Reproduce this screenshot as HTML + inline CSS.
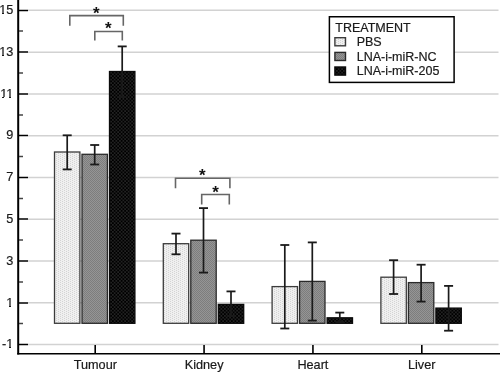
<!DOCTYPE html>
<html><head><meta charset="utf-8"><style>
html,body{margin:0;padding:0;background:#fff;width:500px;height:378px;overflow:hidden}
svg{display:block;will-change:transform}
.t{font-family:"Liberation Sans",sans-serif;font-size:12.7px;fill:#1a1a1a;stroke:#1a1a1a;stroke-width:0.2px}
.l{font-size:12.5px}
.s{font-family:"Liberation Sans",sans-serif;font-size:17px;font-weight:bold;fill:#111}
</style></head><body>
<svg width="500" height="378" viewBox="0 0 500 378">
<defs>
<pattern id="pPBS" width="4" height="2" patternUnits="userSpaceOnUse">
<rect width="4" height="2" fill="#f0f0f0"/><rect x="0" y="0" width="1" height="1" fill="#d4d4d4"/><rect x="2" y="1" width="1" height="1" fill="#d4d4d4"/></pattern>
<pattern id="pNC" width="2" height="2" patternUnits="userSpaceOnUse">
<rect width="2" height="2" fill="#959595"/><rect width="1" height="1" fill="#7d7d7d"/><rect x="1" y="1" width="1" height="1" fill="#7d7d7d"/></pattern>
<pattern id="p205" width="3.5" height="3.5" patternUnits="userSpaceOnUse">
<rect width="3.5" height="3.5" fill="#000"/><rect x="0" y="0" width="1.75" height="1.75" fill="#222"/><rect x="1.75" y="1.75" width="1.75" height="1.75" fill="#222"/></pattern>
</defs>
<rect width="500" height="378" fill="#fff"/>
<line x1="28" y1="344.59" x2="498.5" y2="344.59" stroke="#d2d2d2" stroke-width="1.5"/>
<line x1="28" y1="302.81" x2="498.5" y2="302.81" stroke="#d2d2d2" stroke-width="1.5"/>
<line x1="28" y1="261.03" x2="498.5" y2="261.03" stroke="#d2d2d2" stroke-width="1.5"/>
<line x1="28" y1="219.25" x2="498.5" y2="219.25" stroke="#d2d2d2" stroke-width="1.5"/>
<line x1="28" y1="177.47" x2="498.5" y2="177.47" stroke="#d2d2d2" stroke-width="1.5"/>
<line x1="28" y1="135.69" x2="498.5" y2="135.69" stroke="#d2d2d2" stroke-width="1.5"/>
<line x1="28" y1="93.91" x2="498.5" y2="93.91" stroke="#d2d2d2" stroke-width="1.5"/>
<line x1="28" y1="52.13" x2="498.5" y2="52.13" stroke="#d2d2d2" stroke-width="1.5"/>
<line x1="28" y1="10.35" x2="498.5" y2="10.35" stroke="#d2d2d2" stroke-width="1.5"/>
<rect x="54.50" y="152.00" width="25.40" height="171.30" fill="url(#pPBS)" stroke="#3c3c3c" stroke-width="1.3"/>
<rect x="82.00" y="154.30" width="25.40" height="169.00" fill="url(#pNC)" stroke="#2a2a2a" stroke-width="1.3"/>
<rect x="109.50" y="71.50" width="25.40" height="251.80" fill="url(#p205)" stroke="#0a0a0a" stroke-width="1.3"/>
<rect x="163.30" y="243.70" width="25.40" height="79.60" fill="url(#pPBS)" stroke="#3c3c3c" stroke-width="1.3"/>
<rect x="190.80" y="240.20" width="25.40" height="83.10" fill="url(#pNC)" stroke="#2a2a2a" stroke-width="1.3"/>
<rect x="218.30" y="304.40" width="25.40" height="18.90" fill="url(#p205)" stroke="#0a0a0a" stroke-width="1.3"/>
<rect x="272.10" y="286.60" width="25.40" height="36.70" fill="url(#pPBS)" stroke="#3c3c3c" stroke-width="1.3"/>
<rect x="299.60" y="281.40" width="25.40" height="41.90" fill="url(#pNC)" stroke="#2a2a2a" stroke-width="1.3"/>
<rect x="327.10" y="317.80" width="25.40" height="5.50" fill="url(#p205)" stroke="#0a0a0a" stroke-width="1.3"/>
<rect x="380.90" y="277.20" width="25.40" height="46.10" fill="url(#pPBS)" stroke="#3c3c3c" stroke-width="1.3"/>
<rect x="408.40" y="282.60" width="25.40" height="40.70" fill="url(#pNC)" stroke="#2a2a2a" stroke-width="1.3"/>
<rect x="435.90" y="308.10" width="25.40" height="15.20" fill="url(#p205)" stroke="#0a0a0a" stroke-width="1.3"/>
<line x1="67.20" y1="135.30" x2="67.20" y2="169.40" stroke="#1a1a1a" stroke-width="1.7"/>
<line x1="62.70" y1="135.30" x2="71.70" y2="135.30" stroke="#1a1a1a" stroke-width="1.8"/>
<line x1="62.70" y1="169.40" x2="71.70" y2="169.40" stroke="#1a1a1a" stroke-width="1.8"/>
<line x1="94.70" y1="145.00" x2="94.70" y2="164.50" stroke="#1a1a1a" stroke-width="1.7"/>
<line x1="90.20" y1="145.00" x2="99.20" y2="145.00" stroke="#1a1a1a" stroke-width="1.8"/>
<line x1="90.20" y1="164.50" x2="99.20" y2="164.50" stroke="#1a1a1a" stroke-width="1.8"/>
<line x1="122.20" y1="46.40" x2="122.20" y2="97.00" stroke="#1a1a1a" stroke-width="1.7"/>
<line x1="117.70" y1="46.40" x2="126.70" y2="46.40" stroke="#1a1a1a" stroke-width="1.8"/>
<line x1="117.70" y1="97.00" x2="126.70" y2="97.00" stroke="#1a1a1a" stroke-width="1.8"/>
<line x1="176.00" y1="233.60" x2="176.00" y2="254.30" stroke="#1a1a1a" stroke-width="1.7"/>
<line x1="171.50" y1="233.60" x2="180.50" y2="233.60" stroke="#1a1a1a" stroke-width="1.8"/>
<line x1="171.50" y1="254.30" x2="180.50" y2="254.30" stroke="#1a1a1a" stroke-width="1.8"/>
<line x1="203.50" y1="208.10" x2="203.50" y2="272.60" stroke="#1a1a1a" stroke-width="1.7"/>
<line x1="199.00" y1="208.10" x2="208.00" y2="208.10" stroke="#1a1a1a" stroke-width="1.8"/>
<line x1="199.00" y1="272.60" x2="208.00" y2="272.60" stroke="#1a1a1a" stroke-width="1.8"/>
<line x1="231.00" y1="291.40" x2="231.00" y2="316.00" stroke="#1a1a1a" stroke-width="1.7"/>
<line x1="226.50" y1="291.40" x2="235.50" y2="291.40" stroke="#1a1a1a" stroke-width="1.8"/>
<line x1="226.50" y1="316.00" x2="235.50" y2="316.00" stroke="#1a1a1a" stroke-width="1.8"/>
<line x1="284.80" y1="245.00" x2="284.80" y2="328.50" stroke="#1a1a1a" stroke-width="1.7"/>
<line x1="280.30" y1="245.00" x2="289.30" y2="245.00" stroke="#1a1a1a" stroke-width="1.8"/>
<line x1="280.30" y1="328.50" x2="289.30" y2="328.50" stroke="#1a1a1a" stroke-width="1.8"/>
<line x1="312.30" y1="242.40" x2="312.30" y2="320.60" stroke="#1a1a1a" stroke-width="1.7"/>
<line x1="307.80" y1="242.40" x2="316.80" y2="242.40" stroke="#1a1a1a" stroke-width="1.8"/>
<line x1="307.80" y1="320.60" x2="316.80" y2="320.60" stroke="#1a1a1a" stroke-width="1.8"/>
<line x1="339.80" y1="312.60" x2="339.80" y2="322.00" stroke="#1a1a1a" stroke-width="1.7"/>
<line x1="335.30" y1="312.60" x2="344.30" y2="312.60" stroke="#1a1a1a" stroke-width="1.8"/>
<line x1="335.30" y1="322.00" x2="344.30" y2="322.00" stroke="#1a1a1a" stroke-width="1.8"/>
<line x1="393.60" y1="260.20" x2="393.60" y2="294.00" stroke="#1a1a1a" stroke-width="1.7"/>
<line x1="389.10" y1="260.20" x2="398.10" y2="260.20" stroke="#1a1a1a" stroke-width="1.8"/>
<line x1="389.10" y1="294.00" x2="398.10" y2="294.00" stroke="#1a1a1a" stroke-width="1.8"/>
<line x1="421.10" y1="264.70" x2="421.10" y2="301.60" stroke="#1a1a1a" stroke-width="1.7"/>
<line x1="416.60" y1="264.70" x2="425.60" y2="264.70" stroke="#1a1a1a" stroke-width="1.8"/>
<line x1="416.60" y1="301.60" x2="425.60" y2="301.60" stroke="#1a1a1a" stroke-width="1.8"/>
<line x1="448.60" y1="285.90" x2="448.60" y2="330.70" stroke="#1a1a1a" stroke-width="1.7"/>
<line x1="444.10" y1="285.90" x2="453.10" y2="285.90" stroke="#1a1a1a" stroke-width="1.8"/>
<line x1="444.10" y1="330.70" x2="453.10" y2="330.70" stroke="#1a1a1a" stroke-width="1.8"/>
<line x1="18.2" y1="0" x2="18.2" y2="354.5" stroke="#000" stroke-width="2"/>
<line x1="17.2" y1="353.75" x2="500" y2="353.75" stroke="#000" stroke-width="1.7"/>
<line x1="19" y1="344.5" x2="28" y2="344.5" stroke="#000" stroke-width="1.5"/>
<line x1="19" y1="323.5" x2="23" y2="323.5" stroke="#444" stroke-width="1.5"/>
<line x1="19" y1="303.0" x2="28" y2="303.0" stroke="#000" stroke-width="1.5"/>
<line x1="19" y1="282.0" x2="23" y2="282.0" stroke="#444" stroke-width="1.5"/>
<line x1="19" y1="261.0" x2="28" y2="261.0" stroke="#000" stroke-width="1.5"/>
<line x1="19" y1="240.0" x2="23" y2="240.0" stroke="#444" stroke-width="1.5"/>
<line x1="19" y1="219.0" x2="28" y2="219.0" stroke="#000" stroke-width="1.5"/>
<line x1="19" y1="198.5" x2="23" y2="198.5" stroke="#444" stroke-width="1.5"/>
<line x1="19" y1="177.5" x2="28" y2="177.5" stroke="#000" stroke-width="1.5"/>
<line x1="19" y1="156.5" x2="23" y2="156.5" stroke="#444" stroke-width="1.5"/>
<line x1="19" y1="135.5" x2="28" y2="135.5" stroke="#000" stroke-width="1.5"/>
<line x1="19" y1="115.0" x2="23" y2="115.0" stroke="#444" stroke-width="1.5"/>
<line x1="19" y1="94.0" x2="28" y2="94.0" stroke="#000" stroke-width="1.5"/>
<line x1="19" y1="73.0" x2="23" y2="73.0" stroke="#444" stroke-width="1.5"/>
<line x1="19" y1="52.0" x2="28" y2="52.0" stroke="#000" stroke-width="1.5"/>
<line x1="19" y1="31.0" x2="23" y2="31.0" stroke="#444" stroke-width="1.5"/>
<line x1="19" y1="10.5" x2="28" y2="10.5" stroke="#000" stroke-width="1.5"/>
<line x1="95.20" y1="344.9" x2="95.20" y2="353.5" stroke="#000" stroke-width="1.6"/>
<line x1="204.07" y1="344.9" x2="204.07" y2="353.5" stroke="#000" stroke-width="1.6"/>
<line x1="312.94" y1="344.9" x2="312.94" y2="353.5" stroke="#000" stroke-width="1.6"/>
<line x1="421.81" y1="344.9" x2="421.81" y2="353.5" stroke="#000" stroke-width="1.6"/>
<text x="13.3" y="348.39" text-anchor="end" class="t">-1</text>
<text x="13.3" y="306.61" text-anchor="end" class="t">1</text>
<text x="13.3" y="264.83" text-anchor="end" class="t">3</text>
<text x="13.3" y="223.05" text-anchor="end" class="t">5</text>
<text x="13.3" y="181.27" text-anchor="end" class="t">7</text>
<text x="13.3" y="139.49" text-anchor="end" class="t">9</text>
<text x="13.3" y="97.71" text-anchor="end" class="t">11</text>
<text x="13.3" y="55.93" text-anchor="end" class="t">13</text>
<text x="13.3" y="14.15" text-anchor="end" class="t">15</text>
<rect x="6" y="347" width="3" height="2" fill="#fff"/><rect x="11" y="347" width="3" height="2" fill="#fff"/><rect x="6" y="306" width="3" height="2" fill="#fff"/><rect x="11" y="306" width="3" height="2" fill="#fff"/><rect x="-1" y="97" width="3" height="2" fill="#fff"/><rect x="4" y="97" width="3" height="2" fill="#fff"/><rect x="6" y="97" width="3" height="2" fill="#fff"/><rect x="11" y="97" width="3" height="2" fill="#fff"/><rect x="-1" y="55" width="3" height="2" fill="#fff"/><rect x="4" y="55" width="3" height="2" fill="#fff"/><rect x="-1" y="13" width="3" height="2" fill="#fff"/><rect x="4" y="13" width="3" height="2" fill="#fff"/>
<text x="95.30" y="369.3" text-anchor="middle" class="t">Tumour</text>
<text x="204.10" y="369.3" text-anchor="middle" class="t">Kidney</text>
<text x="312.90" y="369.3" text-anchor="middle" class="t">Heart</text>
<text x="421.70" y="369.3" text-anchor="middle" class="t">Liver</text>
<path d="M69.8 25.8 V15.6 H123.3 V25.8" fill="none" stroke="#666" stroke-width="1.6"/>
<text x="96.20" y="18.60" text-anchor="middle" class="s">*</text>
<path d="M94.8 40.6 V31.5 H122.3 V40.6" fill="none" stroke="#666" stroke-width="1.6"/>
<text x="108.40" y="34.00" text-anchor="middle" class="s">*</text>
<path d="M175.5 188.2 V178.2 H229.9 V188.2" fill="none" stroke="#666" stroke-width="1.6"/>
<text x="202.40" y="180.90" text-anchor="middle" class="s">*</text>
<path d="M201.7 204.5 V194.5 H229.3 V204.5" fill="none" stroke="#666" stroke-width="1.6"/>
<text x="215.50" y="197.70" text-anchor="middle" class="s">*</text>
<rect x="329.4" y="16.75" width="124.7" height="65.65" fill="#fff" stroke="#000" stroke-width="1.5"/>
<text x="335.3" y="31.8" class="t l">TREATMENT</text>
<rect x="334.9" y="37.70" width="10.6" height="8.1" fill="url(#pPBS)" stroke="#3c3c3c" stroke-width="1.4"/>
<text x="356.7" y="46.10" class="t l">PBS</text>
<rect x="334.9" y="52.40" width="10.6" height="8.1" fill="url(#pNC)" stroke="#2a2a2a" stroke-width="1.4"/>
<text x="356.7" y="61.20" class="t l">LNA-i-miR-NC</text>
<rect x="334.9" y="67.00" width="10.6" height="8.1" fill="url(#p205)" stroke="#0a0a0a" stroke-width="1.4"/>
<text x="356.7" y="75.40" class="t l">LNA-i-miR-205</text>
</svg>
</body></html>
